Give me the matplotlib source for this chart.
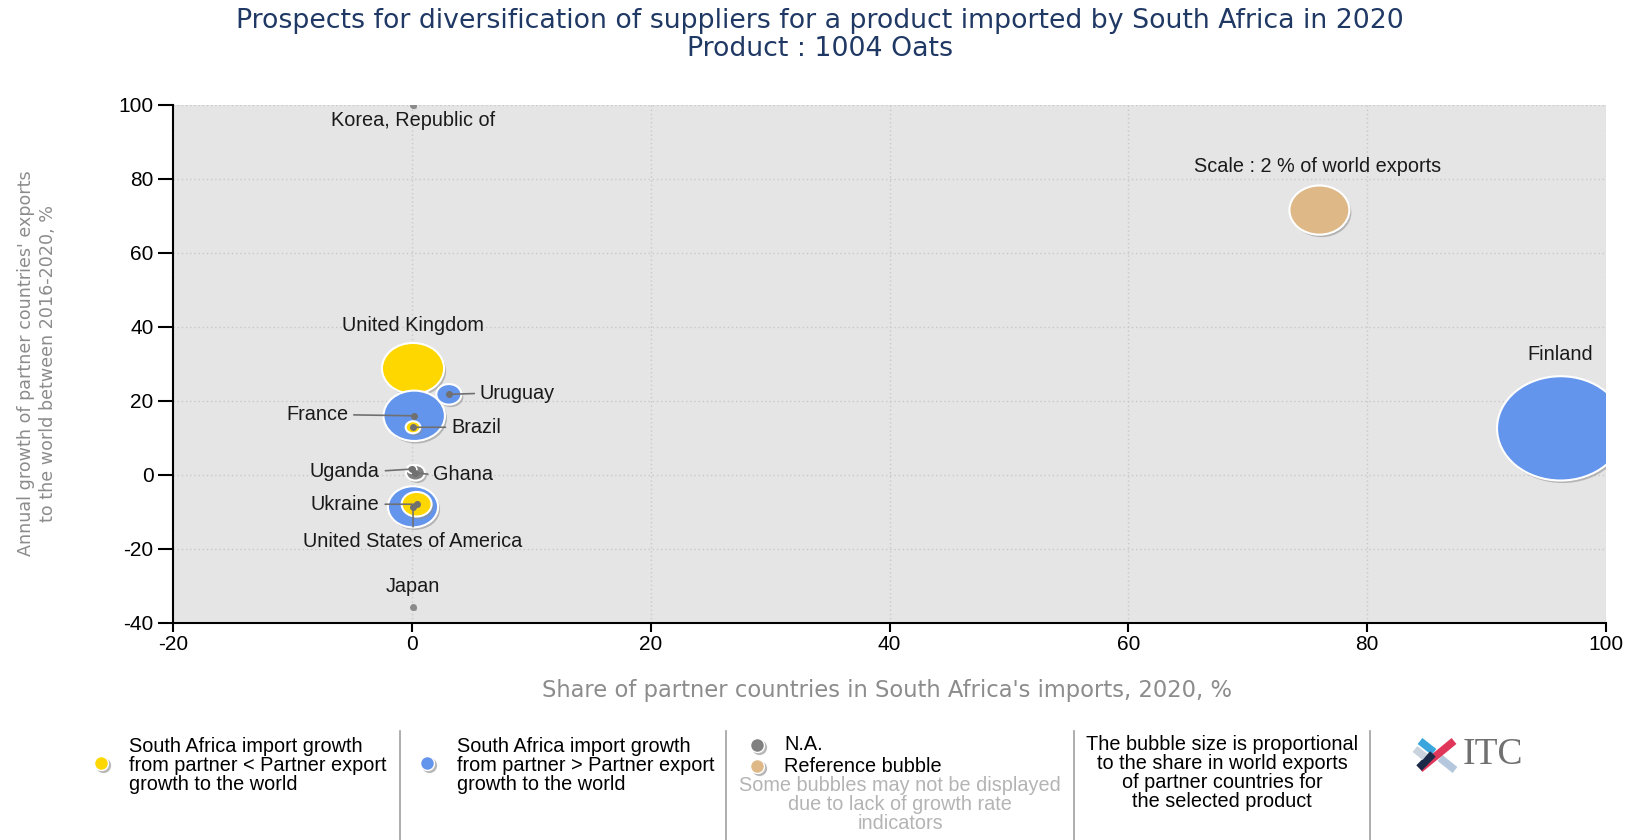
import numpy as np
import matplotlib
matplotlib.use('Agg')
import matplotlib.pyplot as plt
from matplotlib.patches import Ellipse

plt.rcParams['axes.unicode_minus'] = False

# ============================================================
# DATA
# ============================================================
countries     = ['Finland', 'United Kingdom', 'France', 'United States of America',
                 'Ukraine', 'Uruguay', 'Ghana', 'Brazil', 'Uganda',
                 'Korea, Republic of', 'Japan']
share_imports = [96.2, 0.1, 0.2, 0.1, 0.4, 3.1, 0.3, 0.1, 0.0, 0.1, 0.1]      # x, %
export_growth = [12.6, 28.8, 16.0, -8.6, -7.9, 21.8, 0.6, 12.9, 1.6, 100.0, -35.6]  # y, %
world_share   = [9.0, 2.15, 2.1, 1.4, 0.5, 0.35, 0.2, 0.12, 0.05, 0.01, 0.01]  # bubble size, %
group         = ['blue', 'yellow', 'blue', 'blue', 'yellow', 'blue', 'na', 'yellow', 'na', 'na', 'na']

ref_x, ref_y, ref_share = 76.0, 71.6, 2.0
ref_label = 'Scale : 2 % of world exports'

x_ticks = [-20, 0, 20, 40, 60, 80, 100]
y_ticks = [-40, -20, 0, 20, 40, 60, 80, 100]

title_1 = 'Prospects for diversification of suppliers for a product imported by South Africa in 2020'
title_2 = 'Product : 1004 Oats'
xlabel = "Share of partner countries in South Africa's imports, 2020, %"
ylabel = "Annual growth of partner countries' exports\nto the world between 2016-2020, %"

legend_yellow = 'South Africa import growth\nfrom partner < Partner export\ngrowth to the world'
legend_blue   = 'South Africa import growth\nfrom partner > Partner export\ngrowth to the world'
legend_na     = 'N.A.'
legend_ref    = 'Reference bubble'
legend_note   = 'Some bubbles may not be displayed\ndue to lack of growth rate\nindicators'
legend_size   = 'The bubble size is proportional\nto the share in world exports\nof partner countries for\nthe selected product'

COLORS = {'yellow': '#FFD700', 'blue': '#6495ED', 'na': '#808080', 'ref': '#DEB887'}

# label placement: (dx px, dy px, ha, leader line?)
LABELS = {
    'Finland':                  (0, 74, 'center', False),
    'United Kingdom':           (0, 43, 'center', False),
    'France':                   (-66, 1, 'right', True),
    'United States of America': (0, -35, 'center', True),
    'Ukraine':                  (-37, 0, 'right', True),
    'Uruguay':                  (31, 1, 'left', True),
    'Ghana':                    (18, -2, 'left', True),
    'Brazil':                   (38, 0, 'left', True),
    'Uganda':                   (-32, -2, 'right', True),
    'Korea, Republic of':       (0, -16, 'center', False),
    'Japan':                    (0, 20, 'center', False),
}

# ============================================================
# FIGURE
# ============================================================
W, H = 1627, 840
fig = plt.figure(figsize=(W / 100, H / 100), dpi=100)
fig.patch.set_facecolor('white')

AX_L, AX_R, AX_T, AX_B = 173, 1606, 105, 623
ax = fig.add_axes([AX_L / W, 1 - AX_B / H, (AX_R - AX_L) / W, (AX_B - AX_T) / H])
ax.set_facecolor('#E5E5E5')
ax.set_xlim(-20, 100)
ax.set_ylim(-40, 100)
ax.set_xticks(x_ticks)
ax.set_yticks(y_ticks)
ax.grid(True, color='#C8C8C8', linestyle=(0, (1, 2)), linewidth=1)
ax.set_axisbelow(True)
for s in ['top', 'right']:
    ax.spines[s].set_visible(False)
for s in ['left', 'bottom']:
    ax.spines[s].set_color('black')
    ax.spines[s].set_linewidth(1.5)
ax.tick_params(axis='y', direction='out', length=11, width=1.5, pad=3,
               labelsize=15, labelcolor='black')
ax.tick_params(axis='x', direction='out', length=6.5, width=1.5, pad=2,
               labelsize=15, labelcolor='black')
for lab in ax.get_xticklabels() + ax.get_yticklabels():
    lab.set_family('Liberation Sans')

px_x = (AX_R - AX_L) / 120.0   # pixels per x unit
px_y = (AX_B - AX_T) / 140.0   # pixels per y unit
K = 42.4                        # bubble width px per sqrt(% of world exports)
ASPECT = 0.82


def bubble(x, y, share, color, z):
    w = K * np.sqrt(share)
    h = w * ASPECT
    shadow = Ellipse((x + 2 / px_x, y - 2.5 / px_y), w / px_x, h / px_y,
                     facecolor='#8c8c8c', edgecolor='none', alpha=0.55, zorder=z)
    body = Ellipse((x, y), w / px_x, h / px_y, facecolor=color,
                   edgecolor='white', linewidth=1.5, zorder=z + 0.1)
    ax.add_patch(shadow)
    ax.add_patch(body)


order = np.argsort(world_share)[::-1]
for rank, i in enumerate(order):
    bubble(share_imports[i], export_growth[i], world_share[i], COLORS[group[i]], 3 + rank * 0.2)
bubble(ref_x, ref_y, ref_share, COLORS['ref'], 3)

label_font = dict(family='Liberation Sans', fontsize=14.3, color='#1a1a1a')
for i, name in enumerate(countries):
    dx, dy, ha, lead = LABELS[name]
    xy = (share_imports[i], export_growth[i])
    if lead:
        relpos = {'left': (0, 0.5), 'right': (1, 0.5), 'center': (0.5, 1)}[ha]
        ax.annotate(name, xy=xy, xytext=(dx, dy), textcoords='offset pixels',
                    ha=ha, va='center', zorder=20, **label_font,
                    arrowprops=dict(arrowstyle='-', color='#707070', lw=1.2,
                                    shrinkA=2, shrinkB=0, relpos=relpos))
        ax.plot(*xy, 'o', ms=4, color='#707070', zorder=21)
    else:
        ax.annotate(name, xy=xy, xytext=(dx, dy), textcoords='offset pixels',
                    ha=ha, va='center', zorder=20, **label_font)
        if world_share[i] < 0.05:
            ax.plot(*xy, 'o', ms=4, color='#8a8a8a', zorder=21)
ax.annotate(ref_label, xy=(ref_x, ref_y), xytext=(-2, 44), textcoords='offset pixels',
            ha='center', va='center', zorder=20, **label_font)

# titles and axis labels
fig.text(820 / W, 1 - 21 / H, title_1, ha='center', va='center', fontsize=19.3,
         color='#1F3864', family='DejaVu Sans')
fig.text(820 / W, 1 - 49 / H, title_2, ha='center', va='center', fontsize=19.3,
         color='#1F3864', family='DejaVu Sans')
fig.text(887 / W, 1 - 690 / H, xlabel, ha='center', va='center', fontsize=16.3,
         color='#8C8C8C', family='DejaVu Sans')
fig.text(37 / W, 1 - 363 / H, ylabel, ha='center', va='center', fontsize=12.6,
         color='#8C8C8C', family='DejaVu Sans', rotation=90, linespacing=1.35)

# ============================================================
# LEGEND AREA (pixel overlay)
# ============================================================
ov = fig.add_axes([0, 0, 1, 1], facecolor='none')
ov.set_xlim(0, W)
ov.set_ylim(H, 0)
ov.axis('off')

for xs in [400, 726, 1074, 1370]:
    ov.plot([xs, xs], [731, H], color='#A0A0A0', lw=1.2)


def legend_dot(x, y, color):
    ov.plot(x + 2, y + 2, 'o', ms=10, color='#9a9a9a', alpha=0.6)
    ov.plot(x, y, 'o', ms=10, color=color, mec='white', mew=1)


leg_font = dict(family='Liberation Sans', fontsize=14.3, color='black', linespacing=1.0)
legend_dot(101, 763, COLORS['yellow'])
ov.text(129, 737, legend_yellow, ha='left', va='top', **leg_font)
legend_dot(427, 763, COLORS['blue'])
ov.text(457, 737, legend_blue, ha='left', va='top', **leg_font)
legend_dot(757, 745, COLORS['na'])
ov.text(784, 745, legend_na, ha='left', va='center', **leg_font)
legend_dot(757, 766, COLORS['ref'])
ov.text(784, 766, legend_ref, ha='left', va='center', **leg_font)
ov.text(900, 776, legend_note, ha='center', va='top', multialignment='center',
        **{**leg_font, 'color': '#B4B4B4'})
ov.text(1222, 735, legend_size, ha='center', va='top', multialignment='center', **leg_font)

# ITC logo
cx, cy = 1437, 755
for (x0, y0, x1, y1, c) in [
        (cx - 17, cy - 14, cx - 3, cy - 3, '#3AA6DD'),
        (cx + 3, cy + 3, cx + 18, cy + 15, '#B5C7DC'),
        (cx + 17, cy - 14, cx - 17, cy + 14, '#E0365A'),
        (cx - 4, cy - 1, cx - 18, cy + 13, '#1B2A48'),
        (cx - 22, cy - 6, cx - 12, cy + 2, '#C9D3DE')]:
    ov.plot([x0, x1], [y0, y1], color=c, lw=5.5, solid_capstyle='butt')
ov.text(1463, 755, 'ITC', ha='left', va='center', fontsize=27,
        family='Liberation Serif', color='#707070')

fig.savefig('out.png', dpi=100)
